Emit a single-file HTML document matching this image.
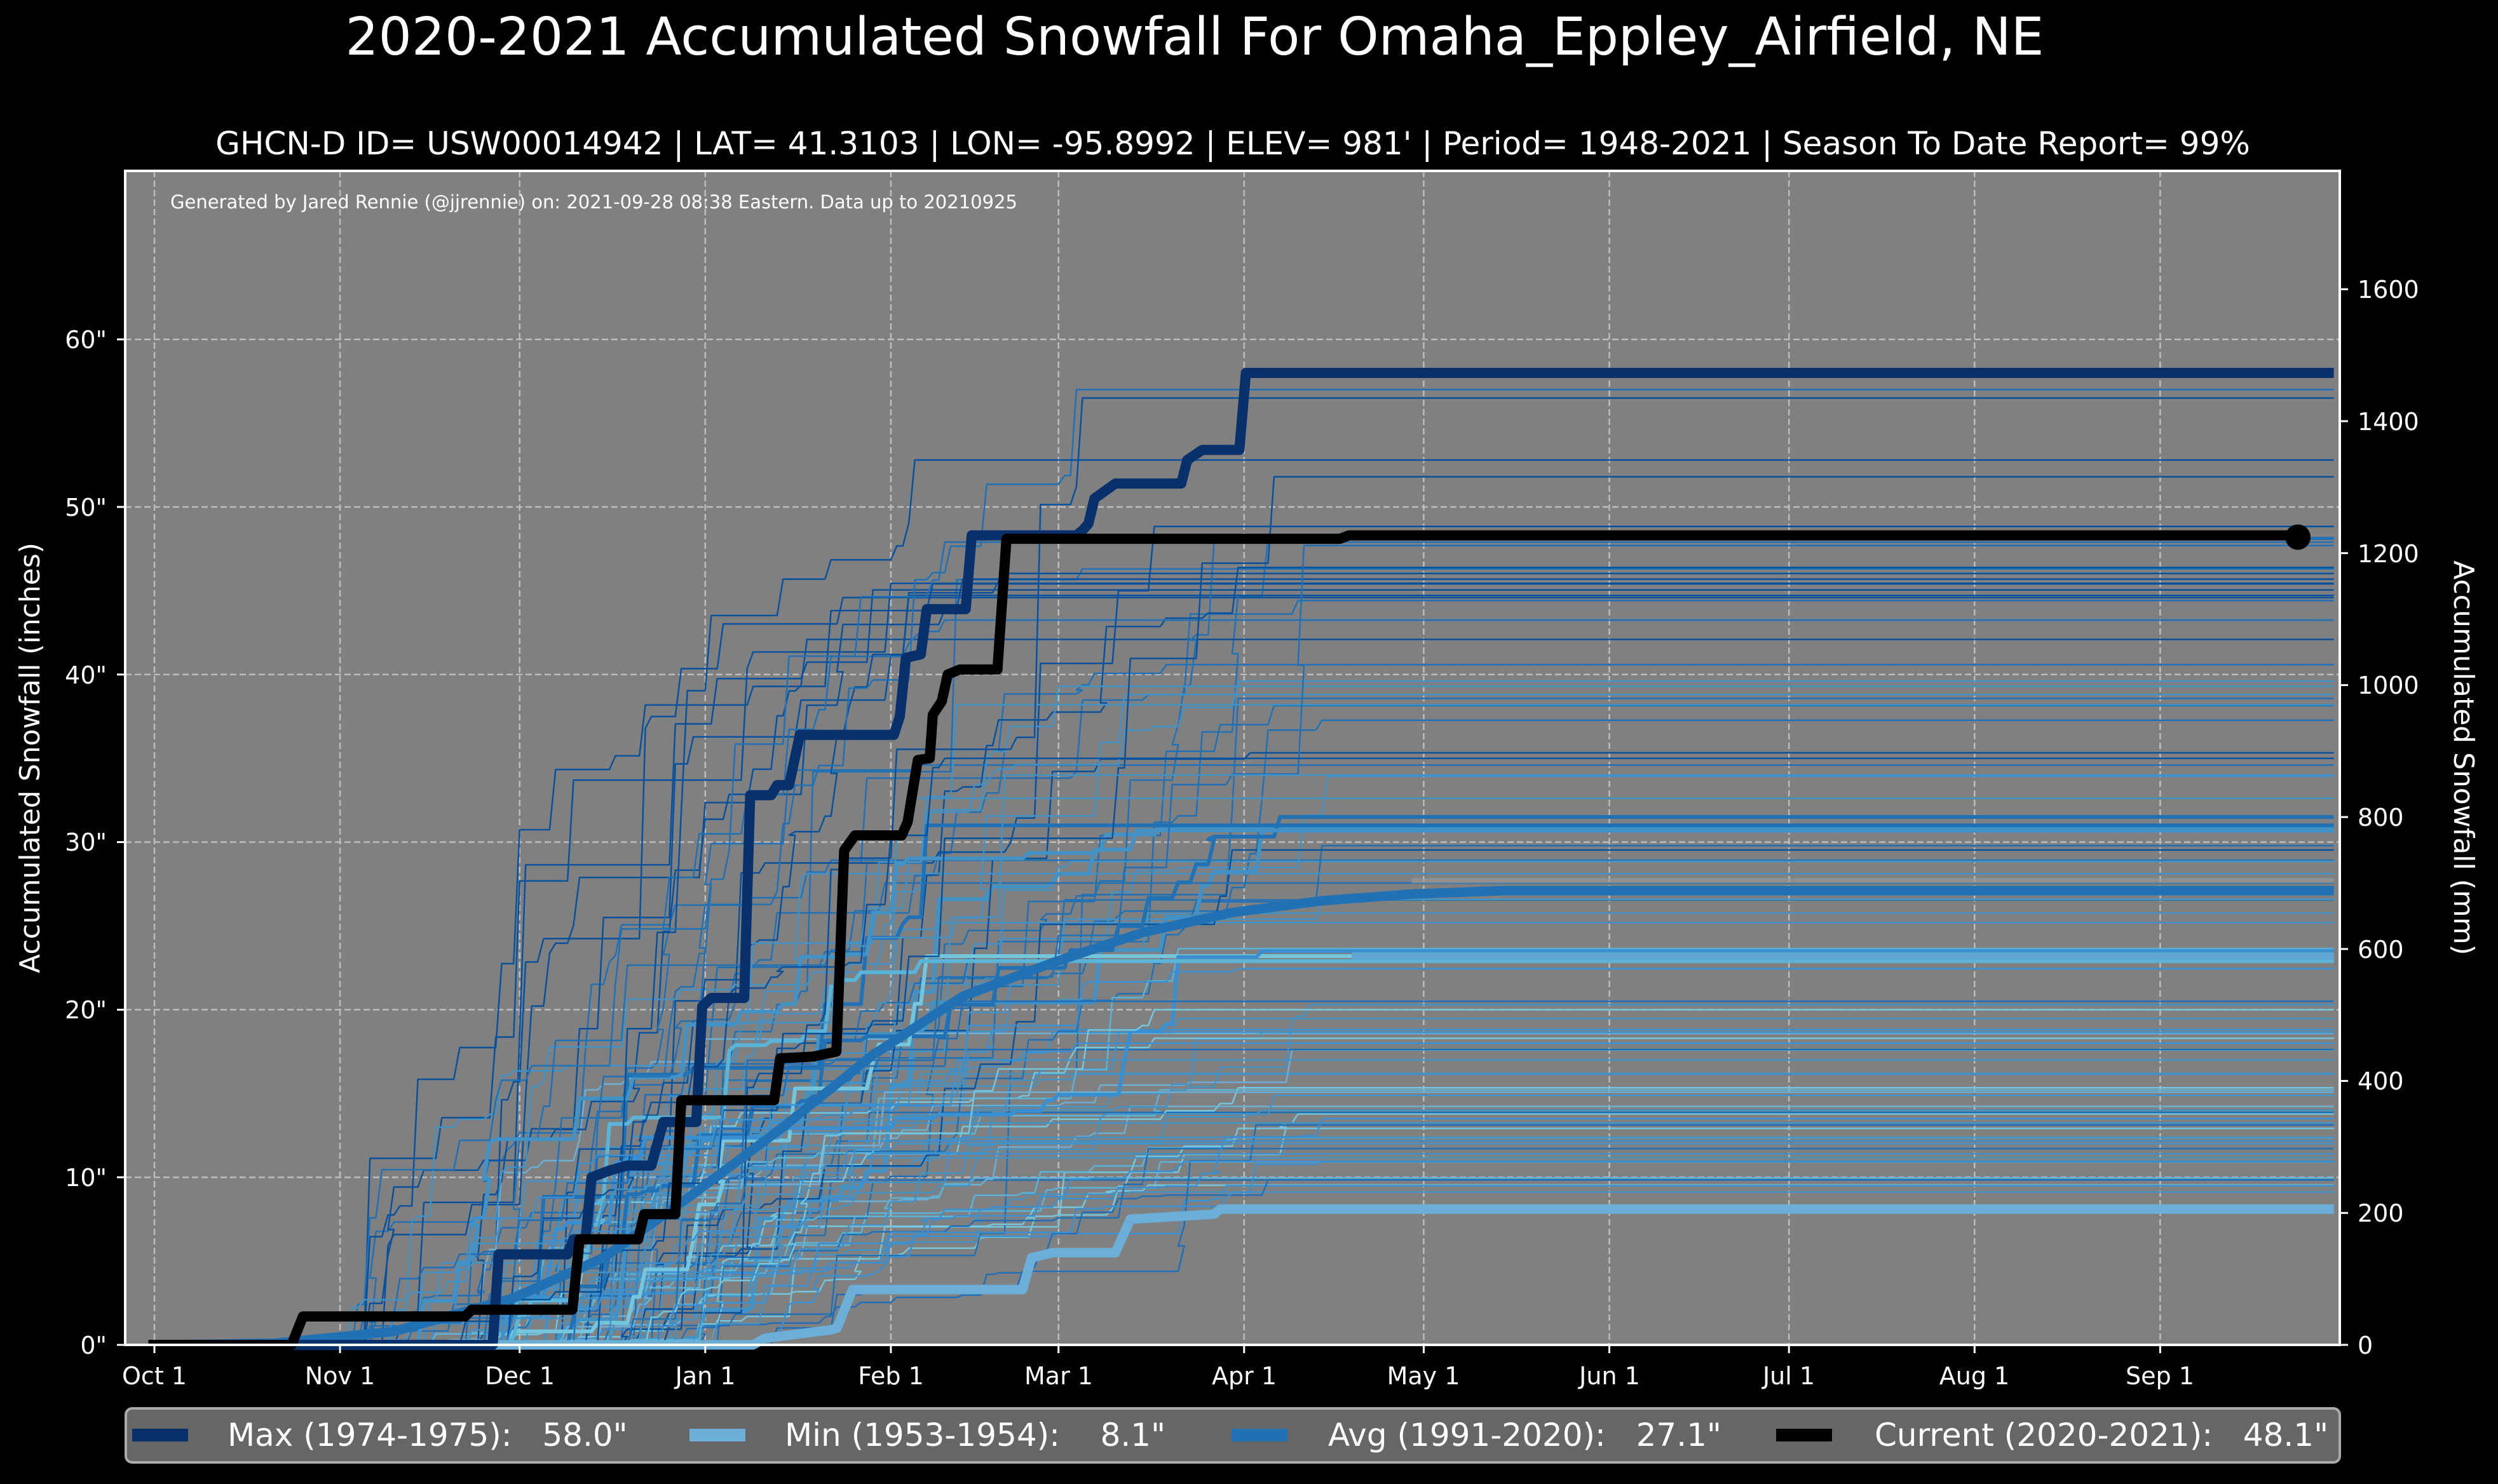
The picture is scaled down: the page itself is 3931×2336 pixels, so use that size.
<!DOCTYPE html>
<html><head><meta charset="utf-8">
<style>
html,body{margin:0;padding:0;background:#000;}
svg{display:block;}
text{font-family:"DejaVu Sans","Liberation Sans",sans-serif;fill:#fff;}
</style></head>
<body>
<svg id="s" width="3931" height="2336" viewBox="0 0 3931 2336" xmlns="http://www.w3.org/2000/svg">
<rect x="0" y="0" width="3931" height="2336" fill="#000"/>
<text x="1880" y="86" font-size="82" text-anchor="middle">2020-2021 Accumulated Snowfall For Omaha_Eppley_Airfield, NE</text>
<text x="1940" y="243" font-size="50" text-anchor="middle">GHCN-D ID= USW00014942 | LAT= 41.3103 | LON= -95.8992 | ELEV= 981' | Period= 1948-2021 | Season To Date Report= 99%</text>
<rect x="197" y="269" width="3485" height="1848" fill="#808080"/>
<g id="grid" stroke="#d0d0d0" stroke-width="2.5" stroke-dasharray="10,5" opacity="0.75"></g>
<text x="268" y="328" font-size="29">Generated by Jared Rennie (@jjrennie) on: 2021-09-28 08:38 Eastern. Data up to 20210925</text>
<g id="bg" fill="none" stroke-linejoin="round"></g>
<g id="main" fill="none" stroke-linejoin="round"></g>
<rect x="197" y="269" width="3485" height="1848" fill="none" stroke="#fff" stroke-width="4"/>
<g id="ticks"></g>
<text transform="translate(62,1193) rotate(-90)" font-size="44" text-anchor="middle">Accumulated Snowfall (inches)</text>
<text transform="translate(3862,1193) rotate(90)" font-size="44" text-anchor="middle">Accumulated Snowfall (mm)</text>
<rect x="198" y="2217" width="3484" height="85" rx="10" fill="#666" stroke="#aaa" stroke-width="4"/>
<line x1="208" y1="2259" x2="296" y2="2259" stroke="#08306b" stroke-width="20"/>
<text x="358" y="2276" font-size="50" xml:space="preserve">Max (1974-1975):   58.0"</text>
<line x1="1085" y1="2259" x2="1173" y2="2259" stroke="#6baed6" stroke-width="20"/>
<text x="1235" y="2276" font-size="50" xml:space="preserve">Min (1953-1954):    8.1"</text>
<line x1="1938" y1="2259" x2="2026" y2="2259" stroke="#2171b5" stroke-width="20"/>
<text x="2090" y="2276" font-size="50" xml:space="preserve">Avg (1991-2020):   27.1"</text>
<line x1="2795" y1="2259" x2="2883" y2="2259" stroke="#000" stroke-width="20"/>
<text x="2950" y="2276" font-size="50" xml:space="preserve">Current (2020-2021):   48.1"</text>
<g id="labels">
<text x="168" y="2131" font-size="38" text-anchor="end">0"</text>
<text x="168" y="1867" font-size="38" text-anchor="end">10"</text>
<text x="168" y="1603" font-size="38" text-anchor="end">20"</text>
<text x="168" y="1339" font-size="38" text-anchor="end">30"</text>
<text x="168" y="1076" font-size="38" text-anchor="end">40"</text>
<text x="168" y="812" font-size="38" text-anchor="end">50"</text>
<text x="168" y="548" font-size="38" text-anchor="end">60"</text>
<text x="3710" y="2131" font-size="38">0</text>
<text x="3710" y="1923" font-size="38">200</text>
<text x="3710" y="1715" font-size="38">400</text>
<text x="3710" y="1508" font-size="38">600</text>
<text x="3710" y="1300" font-size="38">800</text>
<text x="3710" y="1092" font-size="38">1000</text>
<text x="3710" y="885" font-size="38">1200</text>
<text x="3710" y="677" font-size="38">1400</text>
<text x="3710" y="469" font-size="38">1600</text>
<text x="243" y="2179" font-size="38" text-anchor="middle">Oct 1</text>
<text x="535" y="2179" font-size="38" text-anchor="middle">Nov 1</text>
<text x="818" y="2179" font-size="38" text-anchor="middle">Dec 1</text>
<text x="1110" y="2179" font-size="38" text-anchor="middle">Jan 1</text>
<text x="1402" y="2179" font-size="38" text-anchor="middle">Feb 1</text>
<text x="1666" y="2179" font-size="38" text-anchor="middle">Mar 1</text>
<text x="1958" y="2179" font-size="38" text-anchor="middle">Apr 1</text>
<text x="2240" y="2179" font-size="38" text-anchor="middle">May 1</text>
<text x="2533" y="2179" font-size="38" text-anchor="middle">Jun 1</text>
<text x="2815" y="2179" font-size="38" text-anchor="middle">Jul 1</text>
<text x="3107" y="2179" font-size="38" text-anchor="middle">Aug 1</text>
<text x="3399" y="2179" font-size="38" text-anchor="middle">Sep 1</text>
</g>
</svg>
<script>
(function(){
var NS="http://www.w3.org/2000/svg";
function X(d){return 243+d*9.422;}
function Y(v){return 2117-v*26.38;}
function el(p,n,a){var e=document.createElementNS(NS,n);for(var k in a)e.setAttribute(k,a[k]);p.appendChild(e);return e;}
var grid=document.getElementById('grid'),ticks=document.getElementById('ticks');
var months=[0,31,61,92,123,151,182,212,243,273,304,335];
months.forEach(function(d){var x=X(d);el(grid,'line',{x1:x,y1:269,x2:x,y2:2117});el(ticks,'line',{x1:x,y1:2117,x2:x,y2:2130,stroke:'#fff','stroke-width':3});});
for(var v=10;v<=60;v+=10){var y=Y(v);el(grid,'line',{x1:197,y1:y,x2:3682,y2:y});}
for(var v=0;v<=60;v+=10){var y=Y(v);el(ticks,'line',{x1:184,y1:y,x2:197,y2:y,stroke:'#fff','stroke-width':3});}
for(var mm=0;mm<=1600;mm+=200){var y=Y(mm/25.4);el(ticks,'line',{x1:3682,y1:y,x2:3695,y2:y,stroke:'#fff','stroke-width':3});}
var seed=12345;function r(){seed=(seed*16807)%2147483647;return (seed-1)/2147483646;}
var bg=document.getElementById('bg');
var cols=['#08519c','#2171b5','#2171b5','#4292c6','#4292c6','#6baed6','#3a8fd0','#1f6fb8','#5ab4d8','#74c6dc'];
var totals=[];
for(var i=0;i<72;i++){totals.push(9+Math.pow(r(),1.3)*40);}
totals.push(39.6,39.3,38.8,38.2,31,31.5,30.7,23.2,23.5,22.9,56.5,57,52.8,51.8,47.7,47.9,35,34,20,20.5,14,13.5,12,11.4,17,18);
totals.forEach(function(T){
  var n=8+Math.floor(r()*16),days=[];
  var s=30+r()*60,e=Math.min(s+70+r()*90,195);
  for(var k=0;k<n;k++){var u=r();days.push(s+(0.5*u+0.5*u*u)*(e-s));}
  days.sort(function(a,b){return a-b;});
  var amts=[],sum=0;for(var k=0;k<n;k++){var a=Math.pow(r(),2)+0.05;amts.push(a);sum+=a;}
  var d="M"+X(-1).toFixed(1)+","+Y(0).toFixed(1),acc=0;
  for(var k=0;k<n;k++){var dd=Math.round(days[k]);d+=" L"+X(dd).toFixed(1)+","+Y(acc).toFixed(1);acc+=amts[k]/sum*T;d+=" L"+X(dd+1).toFixed(1)+","+Y(acc).toFixed(1);}
  d+=" L"+X(364).toFixed(1)+","+Y(acc).toFixed(1);
  var c=T>40?(r()<0.6?'#08519c':'#2171b5'):T>25?cols[Math.floor(r()*5)]:cols[3+Math.floor(r()*7)];
  var w=(Math.abs(T-23.2)<0.4||Math.abs(T-31)<0.6)?6:2.5;
  el(bg,'path',{d:d,stroke:c,'stroke-width':w});
});
el(bg,'path',{d:"M"+X(200)+","+Y(23.2)+" L"+X(364)+","+Y(23.2),stroke:'#5fa6d3','stroke-width':12});
el(bg,'path',{d:"M"+X(210)+","+Y(27.7)+" L"+X(364)+","+Y(27.7),stroke:'#999','stroke-width':8,opacity:0.6});
function poly(pts){return pts.map(function(p,i){return (i?"L":"M")+X(p[0]).toFixed(1)+","+Y(p[1]).toFixed(1);}).join(" ");}
var main=document.getElementById('main');
el(main,'path',{d:poly([[-1,0],[100,0],[102,0.4],[113,0.9],[114,1],[116.6,3.3],[145,3.3],[146.5,5.2],[150,5.5],[160.5,5.5],[163,7.5],[177,7.8],[178,8.1],[364,8.1]]),stroke:'#6baed6','stroke-width':15});
var av=[[-1,0],[0,0],[20,0.1],[40,0.8],[60,2.8],[75,5.2],[90,9],[105,13],[120,17.3],[135,20.8],[150,22.8],[165,24.6],[180,25.8],[195,26.5],[210,26.9],[225,27.1],[364,27.1]];
el(main,'path',{d:poly(av),stroke:'#2171b5','stroke-width':15,'stroke-linejoin':'round'});
el(main,'path',{d:poly([[-1,0],[56.5,0],[57.5,5.4],[69,5.4],[70,6.3],[72,6.3],[73,10],[76,10.4],[79,10.7],[83,10.7],[85,13.3],[90.5,13.3],[91.5,20.2],[93,20.7],[98.5,20.7],[99.5,32.8],[103,32.8],[104,33.4],[106,33.4],[107.8,36.4],[123.5,36.4],[124.5,37.5],[125.5,41],[128,41.2],[129,43.9],[135.5,43.9],[136.5,48.3],[154,48.3],[155,48.6],[156,49],[157,50.5],[160.5,51.4],[171.5,51.4],[172.5,52.8],[175,53.4],[181.2,53.4],[182.3,58],[364,58]]),stroke:'#08306b','stroke-width':16});
var cur=[[-1,0],[22.9,0],[24.8,1.7],[51.9,1.7],[53,2.1],[69.8,2.1],[71,6.3],[80.8,6.3],[81.8,7.8],[87,7.8],[88,14.6],[103.5,14.6],[104.5,17.1],[110,17.2],[113.9,17.5],[115.2,29.5],[117,30.4],[124.8,30.4],[125.8,31.2],[127.5,34.9],[129.5,35],[130,37.6],[131.5,38.4],[132.5,40],[134.5,40.3],[140.8,40.3],[142.3,48.1],[198,48.1],[199.5,48.3],[358,48.3]];
el(main,'path',{d:poly(cur),stroke:'#000','stroke-width':16});
el(main,'circle',{cx:X(358),cy:Y(48.2),r:20,fill:'#000'});
})();
</script>
</body></html>
